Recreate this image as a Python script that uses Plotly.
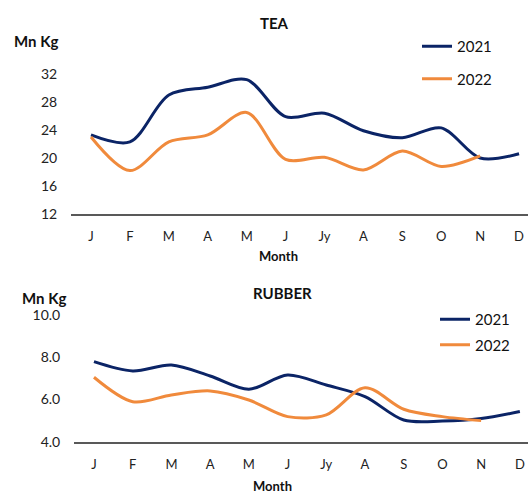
import plotly.graph_objects as go

months = ["J", "F", "M", "A", "M", "J", "Jy", "A", "S", "O", "N", "D"]
tea_2021 = [23.3, 22.3, 29.0, 30.1, 31.2, 25.9, 26.4, 23.9, 22.9, 24.3, 20.0, 20.6]
tea_2022 = [23.0, 18.2, 22.3, 23.3, 26.5, 19.8, 20.1, 18.3, 21.0, 18.8, 20.3]
rubber_2021 = [7.80, 7.36, 7.64, 7.12, 6.49, 7.17, 6.69, 6.14, 5.03, 4.98, 5.10, 5.43]
rubber_2022 = [7.06, 5.90, 6.22, 6.41, 5.98, 5.19, 5.27, 6.56, 5.54, 5.19, 5.00]
tea_ticks = [12, 16, 20, 24, 28, 32]
rubber_ticks = [4.0, 6.0, 8.0, 10.0]

NAVY = "#0B2466"
ORANGE = "#F08A3C"
FONT = "Lato"
W, H = 528, 493

fig = go.Figure()
xi = list(range(len(months)))

fig.add_trace(go.Scatter(x=xi[:len(tea_2021)], y=tea_2021, name="2021", mode="lines",
                         line=dict(color=NAVY, width=3, shape="spline", smoothing=0.9),
                         xaxis="x", yaxis="y", legend="legend", legendgroup="a"))
fig.add_trace(go.Scatter(x=xi[:len(tea_2022)], y=tea_2022, name="2022", mode="lines",
                         line=dict(color=ORANGE, width=3, shape="spline", smoothing=0.9),
                         xaxis="x", yaxis="y", legend="legend", legendgroup="b"))
fig.add_trace(go.Scatter(x=xi[:len(rubber_2021)], y=rubber_2021, name="2021", mode="lines",
                         line=dict(color=NAVY, width=3, shape="spline", smoothing=0.9),
                         xaxis="x2", yaxis="y2", legend="legend2", legendgroup="c"))
fig.add_trace(go.Scatter(x=xi[:len(rubber_2022)], y=rubber_2022, name="2022", mode="lines",
                         line=dict(color=ORANGE, width=3, shape="spline", smoothing=0.9),
                         xaxis="x2", yaxis="y2", legend="legend2", legendgroup="d"))

def py(p):
    return 1 - p / H

def px(p):
    return p / W

common_x = dict(tickvals=xi, ticktext=months, showgrid=False, zeroline=False,
                showline=True, linecolor="#595959", linewidth=1.5,
                ticks="outside", ticklen=10, tickcolor="rgba(0,0,0,0)",
                tickfont=dict(family=FONT, size=13, color="#222"))
common_y = dict(showgrid=False, zeroline=False, showline=False,
                ticks="outside", ticklen=10, tickcolor="rgba(0,0,0,0)",
                tickfont=dict(family=FONT, size=14, color="#222"))

fig.update_layout(
    width=W, height=H, margin=dict(l=0, r=0, t=0, b=0, autoexpand=False),
    paper_bgcolor="white", plot_bgcolor="white",
    font=dict(family=FONT, color="#111"),
    xaxis=dict(domain=[px(71), 1], range=[-0.514, 11.23], anchor="y", **common_x),
    yaxis=dict(domain=[py(214), py(74)], range=[12, 32], tickvals=tea_ticks,
               anchor="x", **common_y),
    xaxis2=dict(domain=[px(74), 1], range=[-0.516, 11.21], anchor="y2", **common_x),
    yaxis2=dict(domain=[py(441.7), py(315.3)], range=[4, 10], tickvals=rubber_ticks,
                tickformat=".1f", anchor="x2", **common_y),
    legend=dict(x=px(417), y=py(30), xanchor="left", yanchor="top",
                traceorder="grouped", tracegroupgap=10,
                font=dict(family=FONT, size=15, color="#111"), bgcolor="rgba(0,0,0,0)"),
    legend2=dict(x=px(435), y=py(303), xanchor="left", yanchor="top",
                 traceorder="grouped", tracegroupgap=3,
                 font=dict(family=FONT, size=15, color="#111"), bgcolor="rgba(0,0,0,0)"),
    showlegend=True,
)

ann = [
    dict(text="<b>TEA</b>", x=px(274), y=py(23), size=15, xanchor="center"),
    dict(text="<b>RUBBER</b>", x=px(282), y=py(293), size=15, xanchor="center"),
    dict(text="<b>Mn Kg</b>", x=px(12), y=py(41), size=15, xanchor="left"),
    dict(text="<b>Mn Kg</b>", x=px(20), y=py(298), size=15, xanchor="left"),
    dict(text="<b>Month</b>", x=px(278), y=py(256), size=13, xanchor="center"),
    dict(text="<b>Month</b>", x=px(272), y=py(486), size=13, xanchor="center"),
]
for a in ann:
    fig.add_annotation(text=a["text"], x=a["x"], y=a["y"], xref="paper", yref="paper",
                       xanchor=a["xanchor"], yanchor="middle", showarrow=False,
                       font=dict(family=FONT, size=a["size"], color="#111"))

fig.write_html("out.html", config={"displayModeBar": False},
               post_script="document.body.style.margin='0';document.body.style.overflow='hidden';")
